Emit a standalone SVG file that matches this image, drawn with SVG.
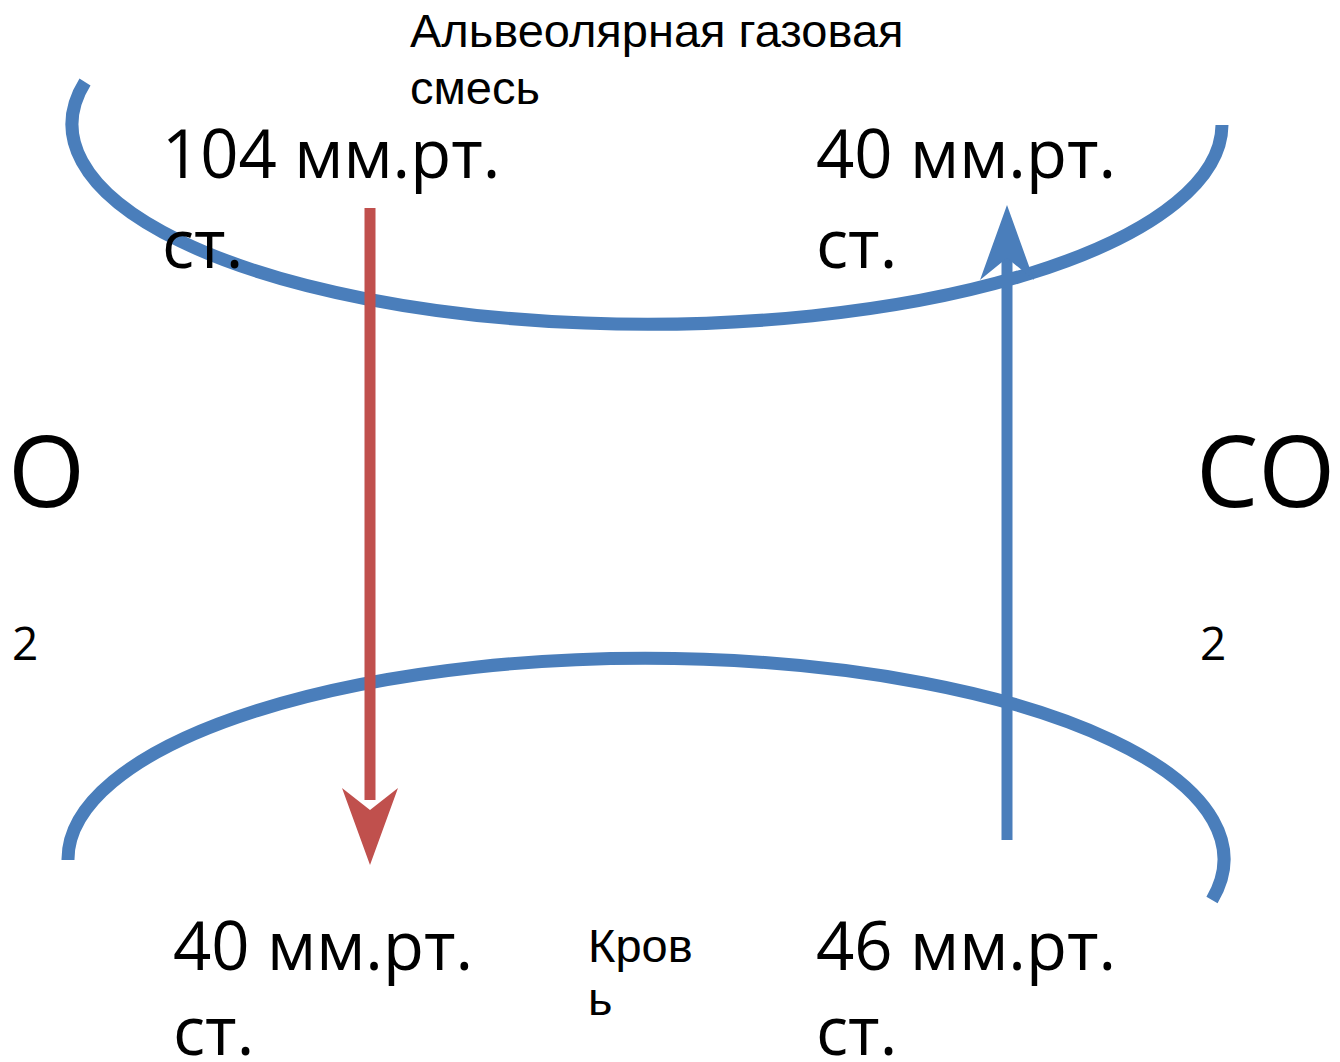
<svg xmlns="http://www.w3.org/2000/svg" width="1340" height="1062" viewBox="0 0 1340 1062">
<style>
.big{font-family:"Open Sans","DejaVu Sans",sans-serif;font-size:67px;fill:#000}
.huge{font-family:"Open Sans","DejaVu Sans",sans-serif;font-size:99px;fill:#000}
.sub{font-family:"Open Sans","DejaVu Sans",sans-serif;font-size:46px;fill:#000}
.lbl{font-family:"Liberation Sans",Arial,sans-serif;font-size:47px;fill:#000}
.curve{fill:none;stroke:#4a7ebb;stroke-width:13}
</style>
<rect width="1340" height="1062" fill="#fff"/>
<g id="alveoli"><path class="curve" d="M 85 82 A 575 200 0 1 0 1222 125"/></g>
<g id="blood"><path class="curve" d="M 68 860 A 578 201 0 1 1 1212 900"/></g>
<g id="label-alveoli"><text class="lbl" x="410" y="47">Альвеолярная газовая</text><text class="lbl" x="410" y="104">смесь</text></g>
<g id="label-blood"><text class="lbl" x="588" y="962">Кров</text><text class="lbl" x="588" y="1015">ь</text></g>
<g id="o2-top"><text class="big" x="162" y="178">104 мм.рт.</text><text class="big" x="162" y="268">ст.</text></g>
<g id="co2-top"><text class="big" x="816" y="178">40 мм.рт.</text><text class="big" x="816" y="268">ст.</text></g>
<g id="o2-bottom"><text class="big" x="173" y="970">40 мм.рт.</text><text class="big" x="173" y="1055">ст.</text></g>
<g id="co2-bottom"><text class="big" x="816" y="970">46 мм.рт.</text><text class="big" x="816" y="1055">ст.</text></g>
<g id="o2"><text class="huge" x="8" y="507">O</text><text class="sub" x="12" y="660">2</text></g>
<g id="co2"><text class="huge" x="1196" y="507">CO</text><text class="sub" x="1200" y="660">2</text></g>
<g id="connectors">
<line x1="370" y1="208" x2="370" y2="800" stroke="#c0504d" stroke-width="11"/>
<polygon points="370,865 342,788 370,810 398,788" fill="#c0504d"/>
<line x1="1007" y1="840" x2="1007" y2="250" stroke="#4a7ebb" stroke-width="11"/>
<polygon points="1007,205 980,280 1007,258 1034,280" fill="#4a7ebb"/>
</g>
</svg>
